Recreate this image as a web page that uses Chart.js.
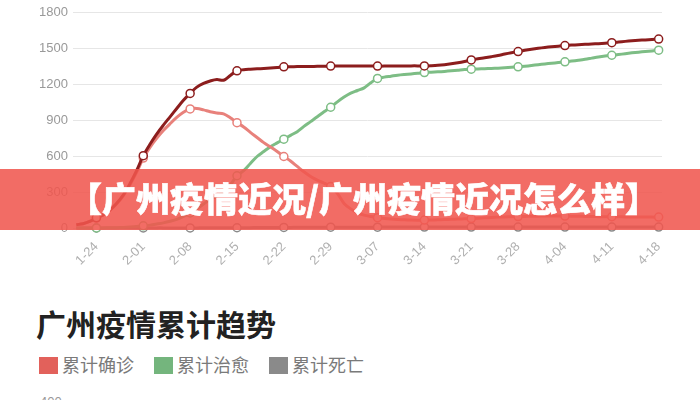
<!DOCTYPE html>
<html lang="zh-CN">
<head>
<meta charset="utf-8">
<title>广州疫情近况</title>
<script src="https://cdn.jsdelivr.net/npm/chart.js@4.4.1/dist/chart.umd.min.js"></script>
<style>
  html, body { margin: 0; padding: 0; background: #fff; }
  body { width: 700px; height: 400px; overflow: hidden; position: relative; font-family: "Noto Sans CJK SC", "Noto Sans", sans-serif; }
  #wrap { position: absolute; left: 0; top: 0; width: 700px; height: 290px; }
  .banner {
    position: absolute; left: 0; top: 169px; width: 700px; height: 61px;
    background: rgba(240, 86, 78, 0.87);
  }
  .banner span {
    position: absolute; left: 68px; top: 9px;
    font-size: 34px; line-height: 40px; font-weight: 900; color: #fff; white-space: nowrap;
    -webkit-text-stroke: 0.6px #fff;
  }
  .title { position: absolute; left: 36px; top: 305px; font-size: 30px; line-height: 36px; font-weight: bold; color: #222; }
  .legend { position: absolute; left: 39px; top: 352px; font-size: 18px; line-height: 24px; color: #7a7a7a; white-space: nowrap; }
  .legend i { display: inline-block; width: 19px; height: 17px; vertical-align: -2px; margin-right: 4px; }
  .legend b { font-weight: normal; margin-right: 20px; }
  .cut { position: absolute; left: 40px; top: 394px; font-family: "Liberation Sans", Arial, sans-serif; font-size: 13px; color: #999; }
</style>
</head>
<body>
<div id="wrap"><canvas id="trendChart" width="700" height="290"></canvas></div>
<div class="banner"><span>【广州疫情近况/广州疫情近况怎么样】</span></div>
<div class="title">广州疫情累计趋势</div>
<div class="legend">
  <i style="background:#e2615b"></i><b>累计确诊</b><i style="background:#74b57d"></i><b>累计治愈</b><i style="background:#8a8a8a"></i><b>累计死亡</b>
</div>
<div class="cut">400</div>
<script>
// ================== Data ==================
const dates = [
  '1-21','1-22','1-23','1-24','1-25','1-26','1-28','1-29','1-30','1-31',
  '2-01','2-02','2-03','2-04','2-05','2-06','2-07','2-08','2-09','2-10',
  '2-11','2-12','2-13','2-14','2-15','2-16','2-17','2-18','2-19','2-20',
  '2-21','2-22','2-23','2-24','2-25','2-26','2-27','2-28','2-29',
  '3-01','3-02','3-03','3-04','3-05','3-06','3-07','3-08','3-09','3-10',
  '3-11','3-12','3-13','3-14','3-15','3-16','3-17','3-18','3-19','3-20',
  '3-21','3-22','3-23','3-24','3-25','3-26','3-27','3-28','3-29','3-30','3-31',
  '4-01','4-02','4-03','4-04','4-05','4-06','4-07','4-08','4-09','4-10',
  '4-11','4-12','4-13','4-14','4-15','4-16','4-17','4-18'
];
// dates that get a tick label and a marker
const tickLabels = ['1-24','2-01','2-08','2-15','2-22','2-29','3-07','3-14','3-21','3-28','4-04','4-11','4-18'];
const yTicks = [0, 300, 600, 900, 1200, 1500, 1800];

const totalConfirmed = [
  28, 36, 55, 85, 110, 150, 205, 275, 370, 480,
  605, 700, 785, 860, 930, 1000, 1068, 1126, 1178, 1210,
  1230, 1242, 1236, 1276, 1315, 1324, 1328, 1331, 1334, 1338,
  1343, 1348, 1349, 1350, 1350, 1351, 1352, 1353, 1354,
  1354, 1354, 1354, 1354, 1354, 1354, 1354, 1354, 1355, 1355,
  1355, 1356, 1356, 1356, 1358, 1361, 1366, 1373, 1382, 1393,
  1406, 1416, 1424, 1433, 1443, 1455, 1466, 1476, 1486, 1495, 1503,
  1510, 1516, 1521, 1526, 1530, 1533, 1536, 1539, 1542, 1546,
  1550, 1556, 1561, 1566, 1570, 1573, 1577, 1580
];
const currentConfirmed = [
  28, 36, 55, 84, 108, 147, 200, 268, 360, 465,
  585, 675, 750, 815, 872, 925, 968, 996, 1000, 988,
  972, 962, 955, 922, 881, 845, 800, 757, 714, 678,
  640, 598, 560, 515, 470, 431, 400, 376, 348,
  290, 205, 160, 127, 108, 96, 86, 80, 75, 71,
  68, 66, 65, 66, 67, 69, 71, 73, 75, 77,
  79, 82, 85, 88, 91, 93, 95, 96, 97, 98, 99,
  100, 100, 100, 100, 99, 98, 97, 96, 95, 95,
  94, 94, 93, 93, 92, 92, 91, 91
];
const totalCured = [
  0, 0, 0, 0, 0, 2, 3, 5, 8, 12,
  18, 24, 33, 43, 56, 72, 96, 126, 160, 200,
  240, 268, 300, 360, 437, 480, 540, 598, 640, 680,
  712, 743, 775, 806, 850, 890, 930, 972, 1010,
  1055, 1095, 1128, 1150, 1172, 1215, 1251, 1262, 1270, 1278,
  1284, 1289, 1294, 1300, 1303, 1306, 1310, 1315, 1320, 1325,
  1328, 1330, 1333, 1335, 1337, 1340, 1344, 1348, 1353, 1359, 1366,
  1372, 1378, 1384, 1390, 1396, 1403, 1411, 1421, 1431, 1439,
  1445, 1451, 1458, 1465, 1471, 1476, 1481, 1487
];
const totalDeaths = [
  0, 0, 0, 0, 0, 0, 0, 0, 0, 0,
  0, 0, 1, 1, 1, 1, 1, 1, 1, 2,
  2, 2, 2, 2, 2, 3, 3, 4, 4, 5,
  5, 5, 5, 6, 6, 6, 6, 6, 7,
  7, 7, 7, 7, 7, 7, 7, 8, 8, 8,
  8, 8, 8, 8, 8, 8, 8, 8, 8, 8,
  8, 8, 8, 8, 8, 8, 8, 8, 8, 8, 8,
  8, 8, 8, 8, 8, 8, 8, 8, 8, 8,
  8, 8, 8, 8, 8, 8, 8, 8
];

// ================== Grafik ==================
function markerRadius(c) {
  return tickLabels.includes(dates[c.dataIndex]) ? 4 : 0;
}

function series(label, data, color, width) {
  return {
    label: label,
    data: data,
    borderColor: color,
    borderWidth: width,
    pointRadius: markerRadius,
    pointHoverRadius: markerRadius,
    pointBackgroundColor: '#fff',
    pointBorderColor: color,
    pointBorderWidth: 1.5,
    tension: 0.35,
    fill: false
  };
}

new Chart(document.getElementById('trendChart'), {
  type: 'line',
  data: {
    labels: dates,
    datasets: [
      series('累计确诊', totalConfirmed, '#8c1d1d', 3),
      series('现有确诊', currentConfirmed, '#e8817b', 3),
      series('累计治愈', totalCured, '#7dbd85', 3),
      series('累计死亡', totalDeaths, '#8a8a8a', 3)
    ]
  },
  options: {
    responsive: false,
    animation: false,
    events: [],
    clip: false,
    layout: { padding: { top: 12, right: 38, left: 0, bottom: 0 } },
    plugins: { legend: { display: false }, tooltip: { enabled: false } },
    scales: {
      x: {
        offset: true,
        grid: { display: false },
        border: { display: false },
        afterFit: function (s) { s.height = 62; },
        ticks: {
          autoSkip: false,
          minRotation: 45,
          maxRotation: 45,
          color: '#b0b0b0',
          font: { family: 'Liberation Sans, Arial, sans-serif', size: 13 },
          callback: function (v, i) {
            return tickLabels.includes(dates[i]) ? dates[i] : null;
          }
        }
      },
      y: {
        min: yTicks[0],
        max: yTicks[yTicks.length - 1],
        afterFit: function (s) { s.width = 73; },
        afterBuildTicks: function (s) { s.ticks = yTicks.map(v => ({ value: v })); },
        grid: { color: '#e6e6e6', lineWidth: 1, drawTicks: false },
        border: { display: false },
        ticks: {
          padding: 5,
          color: '#999',
          font: { family: 'Liberation Sans, Arial, sans-serif', size: 13 },
          callback: function (v) { return String(v); }
        }
      }
    }
  }
});
</script>
</body>
</html>
